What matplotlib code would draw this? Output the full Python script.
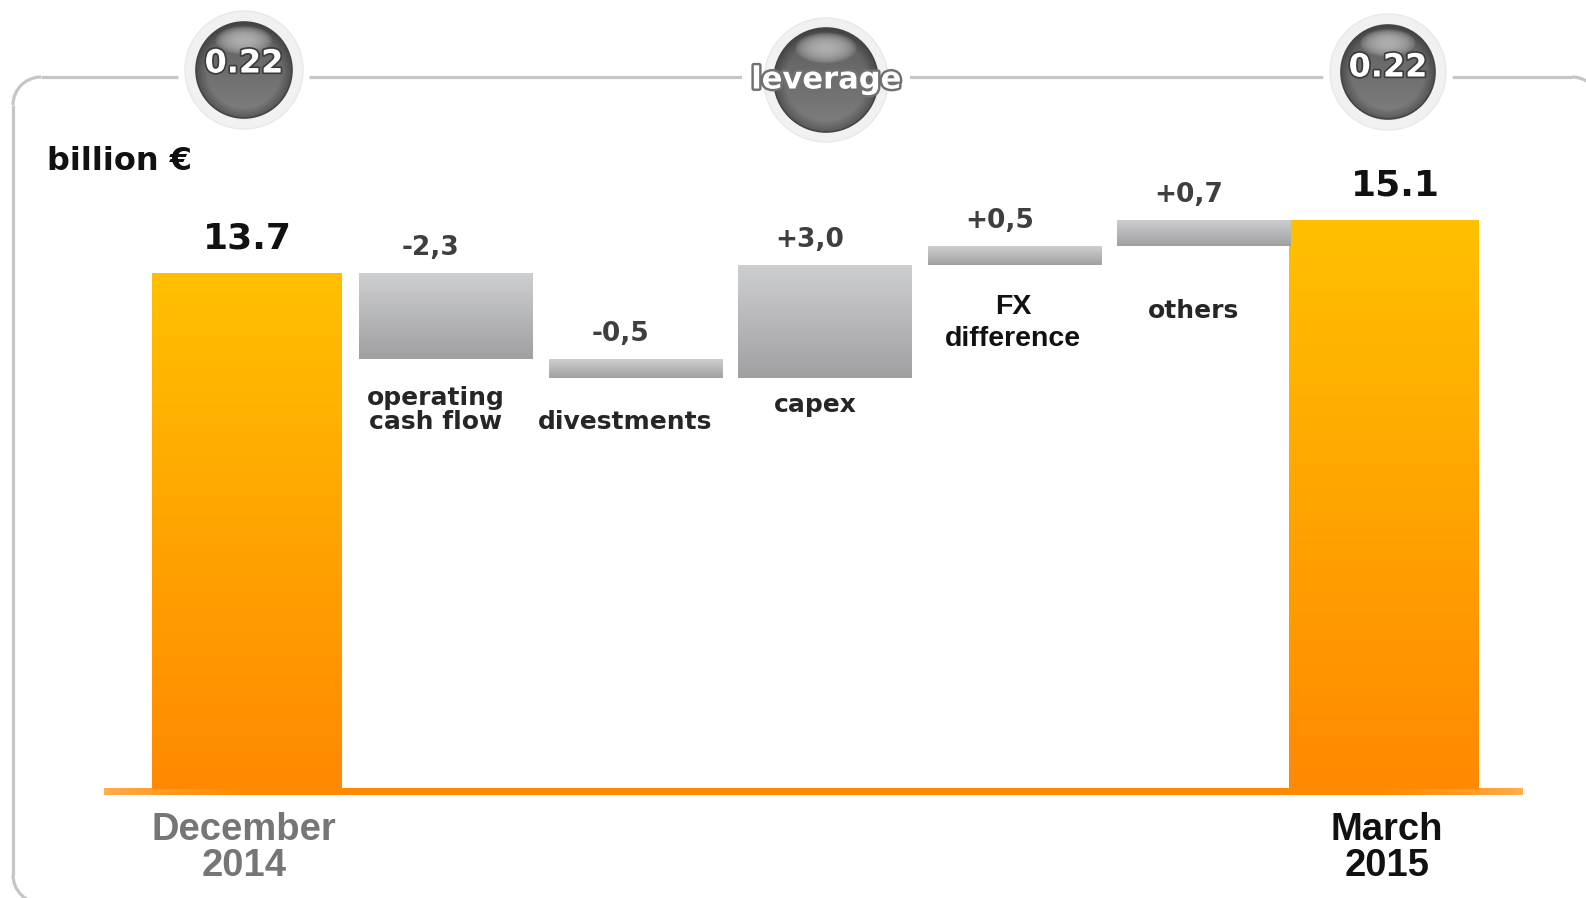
import matplotlib
matplotlib.use('Agg')
import matplotlib.pyplot as plt
import matplotlib.patheffects as pe
from matplotlib.patches import Circle, Arc, Rectangle
import numpy as np

# data
categories = ['December\n2014', 'operating\ncash flow', 'divestments', 'capex',
              'FX\ndifference', 'others', 'March\n2015']
start_value = 13.7
end_value = 15.1
changes = [-2.3, -0.5, 3.0, 0.5, 0.7]
change_labels = ['-2,3', '-0,5', '+3,0', '+0,5', '+0,7']
total_labels = ['13.7', '15.1']
leverage_labels = ['0.22', 'leverage', '0.22']
unit_label = 'billion €'

W, H = 1586, 898
fig = plt.figure(figsize=(W / 100, H / 100), dpi=100)
fig.patch.set_facecolor('white')

# bar axes spans whole figure, scale picked so it lines up with the frame
step_px = 189.5
x0_px = 247
base_px = 789
unit_px = 37.7
ax = fig.add_axes([0, 0, 1, 1], zorder=1)
ax.axis('off')
xlim = (-x0_px / step_px, (W - x0_px) / step_px)
ylim = ((base_px - H) / unit_px, base_px / unit_px)

levels = np.concatenate([[start_value], start_value + np.cumsum(changes)])
lows = np.minimum(levels[:-1], levels[1:])
highs = np.maximum(levels[:-1], levels[1:])
x = np.arange(len(categories))
xd = x[1:-1] + 0.05
xt = x[[0, -1]]


def gradient_fill(rect, top, bottom):
    g = np.linspace(0, 1, 256)[:, None]
    cols = (1 - g) * np.array(top) + g * np.array(bottom)
    img = cols[:, None, :] / 255.0
    bx, by = rect.get_x(), rect.get_y()
    bw, bh = rect.get_width(), rect.get_height()
    im = ax.imshow(img, extent=[bx, bx + bw, by, by + bh], aspect='auto',
                   origin='upper', zorder=2, interpolation='bilinear')
    im.set_clip_path(rect)


tot_bars = ax.bar(xt, [start_value, end_value], width=1.0, color='#FFA800', lw=0, zorder=1)
for r in tot_bars:
    gradient_fill(r, (255, 192, 0), (255, 137, 0))

d_bars = ax.bar(xd, highs - lows, bottom=lows, width=0.913, color='#BBBBBB', lw=0, zorder=1)
for r in d_bars:
    gradient_fill(r, (206, 207, 209), (160, 160, 162))

# orange baseline
n = 400
t = np.linspace(0, 1, n)
fade = np.clip(np.minimum(t, 1 - t) / 0.1, 0, 1) ** 0.7
line = np.zeros((1, n, 3))
line[0, :, 0] = 255
line[0, :, 1] = 175 - 37 * fade
line[0, :, 2] = 80 - 80 * fade
ax.imshow(line / 255.0, extent=[x[0] - 0.755, x[-1] + 0.73, -0.17, 0.0],
          aspect='auto', zorder=0, interpolation='bilinear')

# value labels
for xi, hi, lab, dx in zip(xt, [start_value, end_value], total_labels, [0, 11]):
    ax.annotate(lab, (xi, hi), xytext=(dx * 0.72, 34 * 0.72), textcoords='offset points',
                ha='center', va='center', fontsize=26, fontweight='bold',
                color='#111111', family='DejaVu Sans')
for xi, hi, lab in zip(xd, highs, change_labels):
    ax.annotate(lab, (xi, hi), xytext=(-15 * 0.72, 25 * 0.72), textcoords='offset points',
                ha='center', va='center', fontsize=19, fontweight='bold',
                color='#3f3f3f', family='DejaVu Sans')

# category labels under the change bars
drop_px = [51, 44, 27, 58, 65]
for xi, lo, lab, dp in zip(xd, lows, categories[1:-1], drop_px):
    if lab.startswith('FX'):
        ax.annotate(lab, (xi, lo), xytext=(-1, -dp * 0.72), textcoords='offset points',
                    ha='center', va='center', fontsize=20.5, fontweight='bold',
                    color='#111111', family='Liberation Sans', linespacing=1.3)
    else:
        ax.annotate(lab, (xi, lo), xytext=(-10 * 0.72, -dp * 0.72), textcoords='offset points',
                    ha='center', va='center', fontsize=18, fontweight='bold',
                    color='#262626', family='DejaVu Sans', linespacing=1.0)

# period labels below the baseline
for xi, lab, col, dx in zip(xt, [categories[0], categories[-1]], ['#767676', '#111111'], [-3, 3]):
    ax.annotate(lab, (xi, 0), xytext=(dx * 0.72, -59 * 0.72), textcoords='offset points',
                ha='center', va='center', fontsize=27.5, fontweight='bold',
                color=col, family='Liberation Sans', linespacing=1.0)

ax.set_xlim(*xlim)
ax.set_ylim(*ylim)

# overlay in pixel units for the frame and the leverage bubbles
ov = fig.add_axes([0, 0, 1, 1], zorder=2)
ov.set_xlim(0, W)
ov.set_ylim(H, 0)
ov.axis('off')
ov.patch.set_alpha(0)

# rounded frame, partly running off the page
fl, ft, fr, fb, rad = 13, 77, 1600, 903, 28
fkw = dict(color='#C6C6C6', lw=2.3, solid_capstyle='butt', zorder=1)
ov.plot([fl + rad, fr - rad], [ft, ft], **fkw)
ov.plot([fl, fl], [ft + rad, fb - rad], **fkw)
akw = dict(color='#C6C6C6', lw=2.3, zorder=1)
ov.add_patch(Arc((fl + rad, ft + rad), 2 * rad, 2 * rad, theta1=180, theta2=270, **akw))
ov.add_patch(Arc((fr - rad, ft + rad), 2 * rad, 2 * rad, theta1=270, theta2=360, **akw))
ov.add_patch(Arc((fl + rad, fb - rad), 2 * rad, 2 * rad, theta1=90, theta2=180, **akw))

ov.text(47, 162, unit_label, fontsize=23, fontweight='bold', color='#111111',
        family='DejaVu Sans', ha='left', va='center', zorder=8)


def bubble(cx, cy, r, halo):
    ov.add_patch(Circle((cx, cy), halo + 7, fc='white', ec='none', zorder=3))
    ov.add_patch(Circle((cx, cy), halo, fc='#F1F1F1', ec='#E8E8E8', lw=1, zorder=4))
    m = 240
    yy, xx = np.mgrid[-1:1:m * 1j, -1:1:m * 1j]
    rr = np.hypot(xx, yy)
    val = 0.36 + 0.14 * (yy + 1) / 2
    edge = np.clip((rr - 0.78) / 0.22, 0, 1)
    val = val * (1 - 0.3 * edge)
    hl = np.clip(1 - ((xx / 0.6) ** 2 + ((yy + 0.62) / 0.3) ** 2), 0, 1)
    val = val + (0.68 - val) * hl ** 0.7
    img = np.dstack([val] * 3)
    im = ov.imshow(img, extent=[cx - r, cx + r, cy + r, cy - r], zorder=5,
                   interpolation='bilinear', aspect='auto')
    c = Circle((cx, cy), r, fc='none', ec='#454545', lw=1.2, zorder=6)
    ov.add_patch(c)
    im.set_clip_path(c)


bubble(244, 70, 48, 59)
bubble(826, 80, 52, 62)
bubble(1388, 72, 47, 58)
ov.add_patch(Rectangle((742, 68), 168, 18, fc='white', ec='none', zorder=3))

shadow = [pe.withStroke(linewidth=2.5, foreground='#3c3c3c')]
ov.text(244, 64, leverage_labels[0], fontsize=23, fontweight='bold', color='white',
        ha='center', va='center', zorder=7, path_effects=shadow, family='DejaVu Sans')
ov.text(1388, 68, leverage_labels[2], fontsize=23, fontweight='bold', color='white',
        ha='center', va='center', zorder=7, path_effects=shadow, family='DejaVu Sans')
ov.text(826, 80, leverage_labels[1], fontsize=22, fontweight='bold', color='white',
        ha='center', va='center', zorder=7, family='DejaVu Sans',
        path_effects=[pe.withStroke(linewidth=3.5, foreground='#707070')])

ov.set_xlim(0, W)
ov.set_ylim(H, 0)

fig.savefig('out.png', dpi=100, facecolor='white')
